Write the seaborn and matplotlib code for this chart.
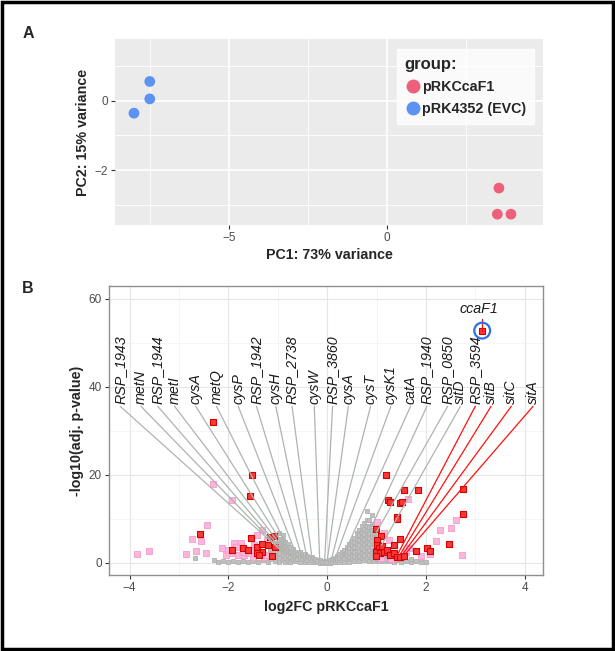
import matplotlib
matplotlib.use("Agg")
import matplotlib.pyplot as plt
from matplotlib.lines import Line2D
from matplotlib.patches import Rectangle
import pandas as pd
import seaborn as sns

# --- Panel A: PCA ---
pca_group = ["pRKCcaF1", "pRKCcaF1", "pRKCcaF1", "pRK4352 (EVC)", "pRK4352 (EVC)", "pRK4352 (EVC)"]
pca_pc1 = [3.54, 3.49, 3.92, -7.51, -7.51, -8.01]
pca_pc2 = [-2.51, -3.26, -3.26, 0.55, 0.05, -0.36]
group_order = ["pRKCcaF1", "pRK4352 (EVC)"]
group_colors = {"pRKCcaF1": "#EE6079", "pRK4352 (EVC)": "#5C93F2"}

# --- Panel B: volcano ---
red_points = [
    (-2.31, 32.0), (-1.53, 20.0), (-1.57, 15.2), (-2.57, 6.5), (-1.55, 5.6), (-1.16, 6.0), (-1.07, 6.2),
    (-1.92, 3.0), (-1.71, 3.3), (-1.61, 3.0), (-1.41, 3.7), (-1.31, 4.3), (-1.19, 4.1), (-1.06, 3.7),
    (-1.31, 2.6), (-1.41, 2.2), (-1.38, 1.8), (-1.11, 1.6),
    (1.20, 20.0), (1.55, 16.6), (1.85, 16.6), (2.75, 16.7), (1.24, 14.2), (1.28, 13.9), (1.47, 13.7),
    (1.52, 13.9), (1.42, 10.5), (1.42, 10.0), (2.76, 11.1), (0.99, 7.7), (1.09, 6.1), (1.00, 5.2),
    (1.48, 5.5), (1.01, 4.1), (1.05, 3.3), (1.11, 3.9), (0.98, 2.6), (1.08, 2.2), (1.15, 2.6), (1.22, 3.0),
    (0.98, 1.6), (1.28, 1.8), (1.35, 2.2), (1.42, 1.4), (1.48, 1.4), (1.55, 1.6), (1.35, 4.1), (1.79, 2.8),
    (2.02, 3.5), (2.08, 2.8), (2.46, 4.3),
]
pink_points = [
    (-3.85, 2.0), (-3.61, 2.7), (-2.31, 17.9), (-1.93, 14.2), (-2.43, 8.7), (-2.74, 5.4), (-2.55, 4.9),
    (-2.85, 2.0), (-2.66, 2.7), (-2.45, 2.2), (-2.12, 3.3), (-1.88, 4.5), (-1.95, 2.2), (-1.81, 1.8),
    (-1.75, 4.5), (-1.68, 1.8), (-1.51, 1.4), (-1.31, 7.5), (-1.28, 1.4), (-1.21, 1.8), (-1.48, 4.1),
    (-1.85, 3.7), (-1.41, 6.4), (-1.21, 5.2), (-2.05, 1.8), (-1.60, 2.2), (-1.70, 2.6), (-1.50, 3.0),
    (-2.00, 3.0), (1.64, 14.5), (2.60, 9.8), (2.51, 8.0), (2.29, 7.5), (2.20, 5.0), (2.73, 1.8),
    (2.09, 2.0), (1.25, 5.2), (1.65, 3.3), (1.01, 9.4), (1.10, 1.2), (1.30, 1.0), (1.60, 2.4),
    (1.90, 1.5), (1.15, 6.8),
]
grey_points = [
    (-2.68, 1.2), (-2.3, 0.6), (-2.2, 0.3), (-2.1, 0.5), (-2.0, 0.2), (-1.9, 0.4), (-1.8, 0.2), (-1.7, 0.5),
    (-1.6, 0.2), (-1.5, 0.4), (-1.4, 0.2), (-1.3, 0.6), (-1.2, 0.3),
    (-1.15, 0.8), (-1.15, 2.0), (-1.15, 3.2),
    (-1.05, 0.5), (-1.05, 1.5), (-1.05, 2.5), (-1.05, 3.5), (-1.05, 4.5),
    (-0.97, 0.3), (-0.97, 1.2), (-0.97, 2.2), (-0.97, 3.3), (-0.97, 4.4), (-0.97, 5.5), (-0.97, 6.7),
    (-0.9, 0.6), (-0.9, 1.8), (-0.9, 3.0), (-0.9, 4.2), (-0.9, 5.3), (-0.9, 6.4),
    (-0.85, 0.2), (-0.85, 1.2), (-0.85, 2.4), (-0.85, 3.6), (-0.85, 4.8),
    (-0.8, 0.7), (-0.8, 1.9), (-0.8, 3.0), (-0.8, 4.2),
    (-0.75, 0.3), (-0.75, 1.4), (-0.75, 2.5), (-0.75, 3.7),
    (-0.7, 0.8), (-0.7, 1.9), (-0.7, 3.1),
    (-0.65, 0.4), (-0.65, 1.5), (-0.65, 2.6),
    (-0.6, 0.9), (-0.6, 2.1),
    (-0.55, 0.3), (-0.55, 1.4), (-0.55, 2.4),
    (-0.5, 0.8), (-0.5, 1.8),
    (-0.45, 0.3), (-0.45, 1.3), (-0.45, 2.0),
    (-0.4, 0.7), (-0.4, 1.6),
    (-0.35, 0.2), (-0.35, 1.1),
    (-0.3, 0.6), (-0.3, 1.3),
    (-0.25, 0.2), (-0.25, 0.9),
    (-0.2, 0.5), (-0.15, 0.1), (-0.15, 0.7), (-0.1, 0.3), (-0.05, 0.1), (-0.05, 0.5), (0.0, 0.2),
    (0.05, 0.1), (0.05, 0.6), (0.1, 0.3), (0.1, 0.9), (0.15, 0.2), (0.15, 1.2),
    (0.2, 0.6), (0.2, 1.5),
    (0.25, 0.2), (0.25, 1.1), (0.25, 2.0),
    (0.3, 0.7), (0.3, 1.6), (0.3, 2.5),
    (0.35, 0.3), (0.35, 1.2), (0.35, 2.2), (0.35, 3.0),
    (0.4, 0.8), (0.4, 1.8), (0.4, 2.8), (0.4, 3.6),
    (0.45, 0.3), (0.45, 1.3), (0.45, 2.4), (0.45, 3.4), (0.45, 4.3),
    (0.5, 0.8), (0.5, 1.9), (0.5, 3.0), (0.5, 4.1), (0.5, 5.0),
    (0.55, 0.4), (0.55, 1.5), (0.55, 2.6), (0.55, 3.7), (0.55, 4.8), (0.55, 5.7),
    (0.6, 1.0), (0.6, 2.1), (0.6, 3.3), (0.6, 4.4), (0.6, 5.5), (0.6, 6.7),
    (0.65, 0.5), (0.65, 1.6), (0.65, 2.8), (0.65, 4.0), (0.65, 5.2), (0.65, 6.3), (0.65, 7.4),
    (0.7, 1.1), (0.7, 2.3), (0.7, 3.5), (0.7, 4.7), (0.7, 5.9), (0.7, 7.0), (0.7, 8.3),
    (0.75, 0.6), (0.75, 1.8), (0.75, 3.0), (0.75, 4.2), (0.75, 5.4), (0.75, 6.6), (0.75, 7.8), (0.75, 9.0),
    (0.8, 1.2), (0.8, 2.4), (0.8, 3.6), (0.8, 4.8), (0.8, 6.0), (0.8, 7.2), (0.8, 8.4), (0.8, 9.8), (0.8, 11.7),
    (0.85, 0.5), (0.85, 1.8), (0.85, 3.0), (0.85, 4.3), (0.85, 5.6), (0.85, 6.9), (0.85, 8.2), (0.85, 9.8),
    (0.9, 1.0), (0.9, 2.3), (0.9, 3.6), (0.9, 4.9), (0.9, 6.2), (0.9, 7.5), (0.9, 8.8), (0.9, 10.9),
    (0.95, 0.4), (0.95, 1.7), (0.95, 3.0), (0.95, 4.3), (0.95, 5.6), (0.95, 6.9),
    (1.0, 1.0), (1.0, 2.3), (1.0, 3.6), (1.0, 4.9), (1.0, 6.2),
    (1.05, 0.5), (1.05, 1.7), (1.05, 3.0), (1.05, 4.3),
    (1.1, 1.1), (1.1, 2.4), (1.1, 3.6),
    (1.15, 0.4), (1.15, 1.6), (1.15, 2.8),
    (1.2, 1.0), (1.2, 2.2), (1.25, 0.4), (1.25, 1.5), (1.3, 0.9), (1.3, 2.0), (1.35, 0.3), (1.35, 1.3),
    (1.4, 0.7), (1.5, 0.3), (1.5, 1.0), (1.6, 0.5), (1.7, 0.2), (1.7, 0.8), (1.8, 0.4), (1.9, 0.3),
    (1.9, 1.0), (2.0, 0.2),
]

# labelled genes: label position on the x axis and the point the segment goes to
label_genes = ["RSP_1943", "metN", "RSP_1944", "metI", "cysA", "metQ", "cysP", "RSP_1942", "cysH",
               "RSP_2738", "cysW", "RSP_3860", "cysA", "cysT", "cysK1", "catA", "RSP_1940", "RSP_0850",
               "sitD", "RSP_3594", "sitB", "sitC", "sitA"]
label_x = [-4.19, -3.77, -3.43, -3.09, -2.66, -2.24, -1.80, -1.43, -1.04, -0.71, -0.26, 0.11, 0.43,
           0.88, 1.29, 1.69, 2.02, 2.44, 2.70, 3.00, 3.32, 3.73, 4.17]
gene_fc = [-0.95, -0.90, -0.85, -0.80, -0.75, -0.70, -0.60, -0.50, -0.40, -0.30, -0.15, -0.05, 0.00,
           0.08, 0.15, 0.30, 0.85, 0.95, 1.10, 1.42, 1.47, 1.53, 1.58]
gene_p = [3.0, 2.5, 2.2, 2.0, 1.6, 1.4, 1.2, 1.0, 0.8, 0.6, 0.5, 0.4, 0.4, 0.5, 0.6, 1.0, 7.0, 6.0,
          4.0, 1.8, 1.8, 2.0, 2.0]
gene_up = [False] * 19 + [True] * 4
LABEL_Y = 36.2

cca_fc, cca_p = 3.14, 52.8


def main():
    sns.set_theme(style="white")
    plt.rcParams["font.family"] = ["Liberation Sans", "DejaVu Sans"]

    fig = plt.figure(figsize=(6.15, 6.51), dpi=100)
    fig.patches.append(Rectangle((0.003, 0.003), 0.994, 0.994, transform=fig.transFigure,
                                 fill=False, edgecolor="black", linewidth=2.5))

    # ---------- A ----------
    axA = fig.add_axes([0.1865, 0.6544, 0.6972, 0.2857])
    pca = pd.DataFrame({"PC1": pca_pc1, "PC2": pca_pc2, "group": pca_group})
    axA.set_facecolor("#EBEBEB")
    sns.scatterplot(data=pca, x="PC1", y="PC2", hue="group", hue_order=group_order,
                    palette=group_colors, s=60, edgecolor="none", ax=axA, legend=False, zorder=3)
    axA.set_xlim(-8.62, 4.95)
    axA.set_ylim(-3.57, 1.77)
    axA.set_xticks([-5, 0])
    axA.set_yticks([-2, 0])
    axA.set_xticks([-7.5, -2.5, 2.5], minor=True)
    axA.set_yticks([-3, -1, 1], minor=True)
    axA.grid(which="major", color="white", linewidth=1.2)
    axA.grid(which="minor", color="white", linewidth=0.6)
    axA.set_axisbelow(True)
    for s in axA.spines.values():
        s.set_visible(False)
    axA.tick_params(which="major", length=3, width=0.8, color="#333333", labelcolor="#4D4D4D",
                    labelsize=8.5, pad=2, bottom=True, left=True)
    axA.tick_params(which="minor", length=0)
    axA.set_xlabel("PC1: 73% variance", fontsize=10.3, fontweight="bold", labelpad=3)
    axA.set_ylabel("PC2: 15% variance", fontsize=10.3, fontweight="bold", labelpad=3)

    handles = [Line2D([], [], marker="o", ls="", color=group_colors[g], markersize=9) for g in group_order]
    leg = axA.legend(handles, group_order, title="group:", loc="upper right",
                     bbox_to_anchor=(0.979, 0.946), borderaxespad=0, frameon=True, fancybox=False,
                     prop={"weight": "bold", "size": 10.3},
                     title_fontproperties={"weight": "bold", "size": 12},
                     handletextpad=0.05, handlelength=1.2, labelspacing=0.55, borderpad=0.55)
    leg.get_frame().set_edgecolor("white")
    leg.get_frame().set_facecolor("white")
    leg._legend_box.align = "left"

    # ---------- B ----------
    axB = fig.add_axes([0.177, 0.1163, 0.7066, 0.4448])
    grey = pd.DataFrame(grey_points, columns=["log2FC", "p"])
    pink = pd.DataFrame(pink_points, columns=["log2FC", "p"])
    red = pd.DataFrame(red_points + [(cca_fc, cca_p)], columns=["log2FC", "p"])

    sns.scatterplot(data=grey, x="log2FC", y="p", marker="s", s=12, color="#C0C0C0",
                    edgecolor="#B0B0B0", linewidth=0.6, ax=axB, zorder=2)
    sns.scatterplot(data=pink, x="log2FC", y="p", marker="s", s=14, color="#FBB6DC",
                    edgecolor="#F49BCB", linewidth=0.6, ax=axB, zorder=3)
    sns.scatterplot(data=red, x="log2FC", y="p", marker="s", s=14, color="#F43A3A",
                    edgecolor="#D60000", linewidth=0.8, ax=axB, zorder=4)

    for lx, fc, p, up in zip(label_x, gene_fc, gene_p, gene_up):
        axB.plot([lx, fc], [LABEL_Y - 0.6, p], color="#FF1010" if up else "#AEB4AE",
                 linewidth=0.9, zorder=5)
    for name, lx in zip(label_genes, label_x):
        axB.text(lx, LABEL_Y, name, rotation=90, ha="center", va="bottom", fontsize=10.3,
                 fontstyle="italic", color="#1A1A1A", zorder=6)

    # ccaF1 highlighted
    axB.plot([cca_fc, cca_fc], [cca_p, 55.4], color="#FF1010", linewidth=0.9, zorder=5)
    axB.text(3.07, 56.2, "ccaF1", ha="center", va="bottom", fontsize=10.3, fontstyle="italic",
             color="#1A1A1A", zorder=6)
    axB.scatter([cca_fc], [cca_p], s=130, facecolors="none", edgecolors="#2E6FEA", linewidths=1.6,
                zorder=7)

    axB.set_xlim(-4.42, 4.38)
    axB.set_ylim(-2.8, 63.0)
    axB.set_xticks([-4, -2, 0, 2, 4])
    axB.set_yticks([0, 20, 40, 60])
    axB.set_xticks([-3, -1, 1, 3], minor=True)
    axB.set_yticks([10, 30, 50], minor=True)
    axB.grid(which="major", color="#E6E6E6", linewidth=0.8)
    axB.grid(which="minor", color="#F2F2F2", linewidth=0.5)
    axB.set_axisbelow(True)
    for s in axB.spines.values():
        s.set_color("#8F8F8F")
        s.set_linewidth(1.0)
    axB.tick_params(which="major", length=3, width=0.8, color="#333333", labelcolor="#4D4D4D",
                    labelsize=8.5, pad=2, bottom=True, left=True)
    axB.tick_params(which="minor", length=0)
    axB.set_xlabel("log2FC pRKCcaF1", fontsize=10.3, fontweight="bold", labelpad=4)
    axB.set_ylabel("-log10(adj. p-value)", fontsize=10.3, fontweight="bold", labelpad=3)

    fig.text(28 / 615, 1 - 33 / 651, "A", fontsize=11.5, fontweight="bold", ha="center", va="center")
    fig.text(28 / 615, 1 - 288 / 651, "B", fontsize=11.5, fontweight="bold", ha="center", va="center")

    fig.savefig("out.png", dpi=100)


if __name__ == "__main__":
    main()
